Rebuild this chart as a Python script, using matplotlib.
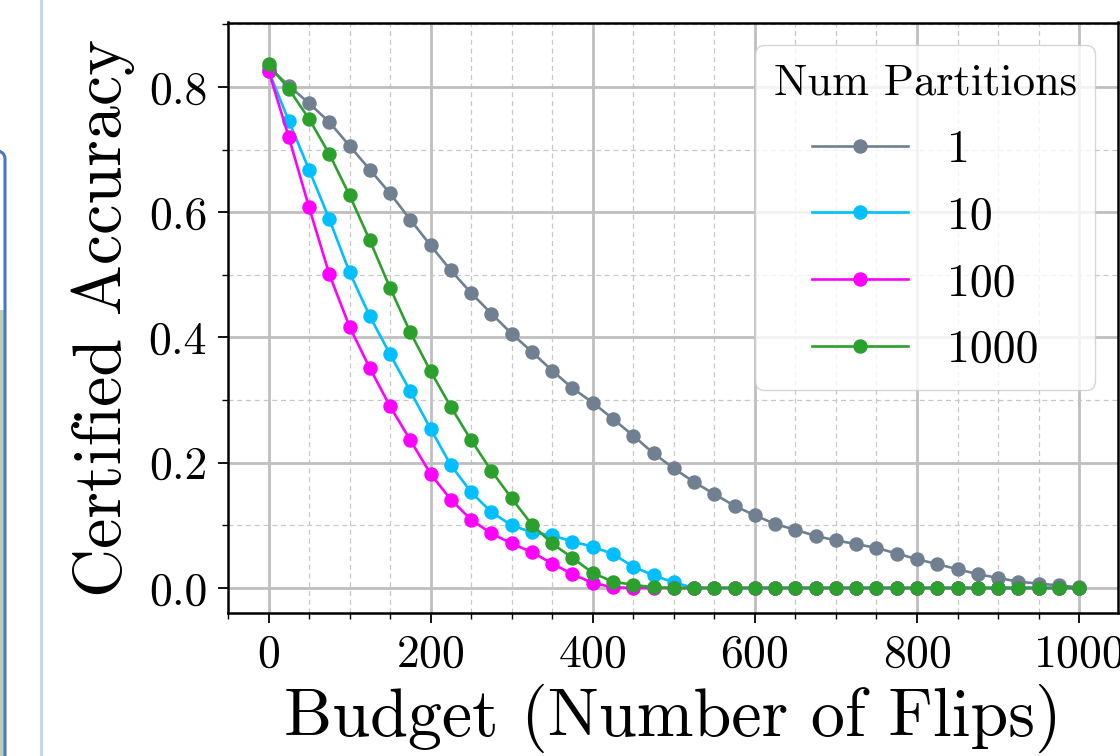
import numpy as np
import matplotlib
matplotlib.use("Agg")
import matplotlib.pyplot as plt
from matplotlib.ticker import MultipleLocator
from matplotlib.patches import FancyBboxPatch, Rectangle
from matplotlib.lines import Line2D

plt.rcParams['font.family'] = ['cmr10', 'DejaVu Serif']
plt.rcParams['mathtext.fontset'] = 'cm'
plt.rcParams['axes.formatter.use_mathtext'] = True
plt.rcParams['axes.unicode_minus'] = False

budget = list(range(0, 1001, 25))

acc_1 = [0.832, 0.802, 0.774, 0.744, 0.706, 0.668, 0.630, 0.588, 0.547, 0.507,
         0.471, 0.438, 0.406, 0.377, 0.347, 0.319, 0.296, 0.270, 0.243, 0.215,
         0.191, 0.169, 0.150, 0.131, 0.116, 0.102, 0.093, 0.083, 0.076, 0.070,
         0.064, 0.055, 0.046, 0.038, 0.030, 0.022, 0.016, 0.010, 0.007, 0.004,
         0.001]
acc_10 = [0.826, 0.746, 0.668, 0.589, 0.504, 0.434, 0.373, 0.314, 0.254, 0.196,
          0.153, 0.121, 0.100, 0.089, 0.084, 0.074, 0.066, 0.054, 0.034, 0.020,
          0.009, 0.0, 0.0, 0.0, 0.0, 0.0, 0.0, 0.0, 0.0, 0.0,
          0.0, 0.0, 0.0, 0.0, 0.0, 0.0, 0.0, 0.0, 0.0, 0.0,
          0.0]
acc_100 = [0.826, 0.720, 0.608, 0.501, 0.417, 0.351, 0.290, 0.236, 0.182, 0.141,
           0.109, 0.087, 0.071, 0.057, 0.039, 0.022, 0.008, 0.001, 0.0, 0.0,
           0.0, 0.0, 0.0, 0.0, 0.0, 0.0, 0.0, 0.0, 0.0, 0.0,
           0.0, 0.0, 0.0, 0.0, 0.0, 0.0, 0.0, 0.0, 0.0, 0.0,
           0.0]
acc_1000 = [0.836, 0.797, 0.749, 0.693, 0.627, 0.555, 0.479, 0.408, 0.346, 0.289,
            0.236, 0.187, 0.143, 0.101, 0.071, 0.048, 0.024, 0.010, 0.005, 0.001,
            0.0, 0.0, 0.0, 0.0, 0.0, 0.0, 0.0, 0.0, 0.0, 0.0,
            0.0, 0.0, 0.0, 0.0, 0.0, 0.0, 0.0, 0.0, 0.0, 0.0,
            0.0]

series_labels = ['1', '10', '100', '1000']
series_colors = ['#708090', '#00bfff', '#ff00ff', '#2ca02c']
series_values = [acc_1, acc_10, acc_100, acc_1000]

W, H = 1120, 756
fig = plt.figure(figsize=(W / 100, H / 100), dpi=100)

# fragments of neighbouring panels at the left edge
fig.add_artist(Line2D([41 / W, 41 / W], [0, 1], transform=fig.transFigure,
                      color='#c9d5ef', lw=2.2))
fig.add_artist(Rectangle((-10 / W, 0), 15 / W, (H - 310) / H, transform=fig.transFigure,
                         facecolor='#b9cfb1', edgecolor='none'))
fig.add_artist(FancyBboxPatch((-60 / W, -50 / H), 65 / W, (H - 150 + 50) / H,
                              boxstyle='round,pad=0,rounding_size=0.012',
                              transform=fig.transFigure, facecolor='none',
                              edgecolor='#4a76c8', lw=2.2))

ax = fig.add_axes([228 / W, 1 - 613 / H, 890 / W, (613 - 22.5) / H])

for vals, lab, col in zip(series_values, series_labels, series_colors):
    ax.plot(budget, vals, '-o', color=col, label=lab, lw=1.9, markersize=9.4, zorder=3)

ax.set_xlim(-50, 1048)
ax.set_ylim(-0.04, 0.903)
ax.xaxis.set_major_locator(MultipleLocator(200))
ax.xaxis.set_minor_locator(MultipleLocator(50))
ax.yaxis.set_major_locator(MultipleLocator(0.2))
ax.yaxis.set_minor_locator(MultipleLocator(0.1))
ax.yaxis.set_major_formatter(plt.FuncFormatter(lambda v, p: f'{v:.1f}'))

ax.grid(which='major', color='#bfbfbf', lw=2.0, ls='-', zorder=0)
ax.grid(which='minor', color='#c8c8c8', lw=0.9, ls=(0, (4, 3)), zorder=0)
ax.set_axisbelow(True)

ax.tick_params(which='major', direction='out', length=7, width=1.3, labelsize=33, pad=8)
ax.tick_params(which='minor', direction='out', length=4.5, width=1.0)
for s in ax.spines.values():
    s.set_linewidth(1.8)
    s.set_color('black')

ax.set_xlabel('Budget (Number of Flips)', fontsize=49, labelpad=6)
ax.set_ylabel('Certified Accuracy', fontsize=49, labelpad=10)

leg = ax.legend(title='Num Partitions', loc='upper right', fontsize=33,
                title_fontsize=32, numpoints=1, handlelength=2.1,
                handletextpad=0.85, borderpad=0.4, labelspacing=0.55,
                borderaxespad=0.5)

fig.savefig('out.png', dpi=100)
